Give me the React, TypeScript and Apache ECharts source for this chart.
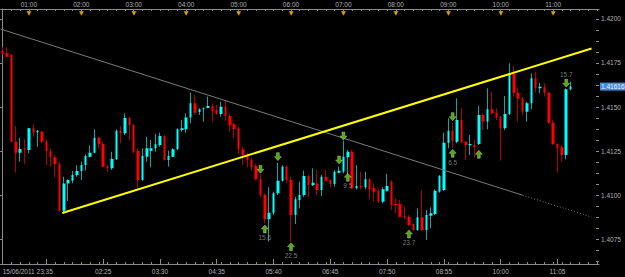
import React, { useEffect, useRef } from "react";
import * as echarts from "echarts";

// ---- data (EURUSD-like 5 minute bars) ----
const openP = [
  1.4182, 1.41805, 1.41795, 1.41303, 1.4124, 1.41264, 1.41256, 1.41379, 1.41356, 1.4136,
  1.41303, 1.4125, 1.41214, 1.41176, 1.40911, 1.41066, 1.41081, 1.41114, 1.41136, 1.4117,
  1.41218, 1.4124, 1.41326, 1.4129, 1.41161, 1.41152, 1.41203, 1.41365, 1.41351, 1.41438,
  1.41398, 1.4125, 1.41085, 1.41218, 1.41252, 1.41265, 1.41284, 1.41335, 1.41199, 1.41218,
  1.4126, 1.41369, 1.41373, 1.41441, 1.41521, 1.41472, 1.41487, 1.41494, 1.41506, 1.41483,
  1.4146, 1.41502, 1.41449, 1.41402, 1.41379, 1.4126, 1.41227, 1.41199, 1.41165, 1.41089,
  1.41, 1.40862, 1.40899, 1.4101, 1.41081, 1.41161, 1.41085, 1.40886, 1.40972, 1.41,
  1.41108, 1.41055, 1.41066, 1.41028, 1.41104, 1.41085, 1.41063, 1.41127, 1.41132, 1.41214,
  1.41246, 1.41038, 1.41051, 1.41044, 1.41089, 1.41038, 1.41024, 1.40962, 1.41024, 1.41076,
  1.40949, 1.40949, 1.40881, 1.40877, 1.40835, 1.40801, 1.40873, 1.40801, 1.40882, 1.40892,
  1.41019, 1.41028, 1.41297, 1.41365, 1.41303, 1.41426, 1.41303, 1.41282, 1.41284, 1.4129,
  1.41455, 1.41417, 1.41487, 1.41468, 1.41445, 1.41379, 1.4146, 1.41688, 1.41581, 1.41549,
  1.41473, 1.41521, 1.41663, 1.41606, 1.41612, 1.41581, 1.41411, 1.4129, 1.41271, 1.41227,
  1.41601,
];
const closeP = [
  1.41801, 1.41786, 1.41303, 1.4124, 1.41261, 1.41259, 1.41379, 1.41354, 1.41365, 1.41303,
  1.4125, 1.41214, 1.41176, 1.40911, 1.41066, 1.41085, 1.41114, 1.41136, 1.4117, 1.41222,
  1.4124, 1.41326, 1.4129, 1.41161, 1.41153, 1.41205, 1.41365, 1.41351, 1.41438, 1.41398,
  1.41246, 1.41085, 1.41222, 1.41265, 1.41265, 1.41288, 1.41335, 1.41199, 1.41222, 1.4126,
  1.41373, 1.41379, 1.41441, 1.41521, 1.41468, 1.41487, 1.41493, 1.41506, 1.41479, 1.4146,
  1.41502, 1.41449, 1.41398, 1.41375, 1.4126, 1.41227, 1.41199, 1.41157, 1.41089, 1.41,
  1.40862, 1.40899, 1.4101, 1.41081, 1.41161, 1.41085, 1.40886, 1.40976, 1.41, 1.41108,
  1.41057, 1.4107, 1.41028, 1.41104, 1.41081, 1.41063, 1.41132, 1.41138, 1.41218, 1.41246,
  1.41038, 1.41051, 1.41044, 1.41089, 1.41032, 1.41019, 1.40962, 1.41032, 1.41051, 1.40943,
  1.40943, 1.40877, 1.40873, 1.4083, 1.40801, 1.40873, 1.40801, 1.40886, 1.40896, 1.41024,
  1.41108, 1.41297, 1.41365, 1.41307, 1.41426, 1.41299, 1.41284, 1.4129, 1.41273, 1.41455,
  1.41417, 1.41487, 1.41464, 1.41441, 1.41379, 1.4146, 1.41688, 1.41581, 1.41549, 1.41473,
  1.41521, 1.41663, 1.41606, 1.41615, 1.41581, 1.41411, 1.4129, 1.41265, 1.41227, 1.41601,
  1.41616,
];
const lowP = [
  1.41798, 1.41784, 1.41301, 1.41127, 1.41189, 1.41176, 1.41237, 1.41331, 1.41274, 1.41294,
  1.4117, 1.41161, 1.41101, 1.40905, 1.40896, 1.40966, 1.41066, 1.41104, 1.41085, 1.41138,
  1.41214, 1.41237, 1.41265, 1.41157, 1.41132, 1.41142, 1.41199, 1.41294, 1.41341, 1.41313,
  1.41237, 1.41038, 1.41081, 1.41189, 1.41157, 1.41246, 1.41274, 1.41195, 1.41161, 1.41214,
  1.41256, 1.4136, 1.41354, 1.41407, 1.41455, 1.41455, 1.41417, 1.41493, 1.41417, 1.41455,
  1.41445, 1.41422, 1.4136, 1.41322, 1.41233, 1.4117, 1.41157, 1.41138, 1.41085, 1.4099,
  1.40839, 1.40735, 1.40886, 1.41, 1.41076, 1.41066, 1.40735, 1.40835, 1.40924, 1.4099,
  1.4099, 1.41051, 1.41, 1.40994, 1.41076, 1.41044, 1.41047, 1.41123, 1.41123, 1.41114,
  1.41032, 1.41032, 1.41032, 1.41032, 1.40976, 1.40962, 1.40956, 1.40953, 1.41019, 1.40915,
  1.40896, 1.40873, 1.40862, 1.40824, 1.40797, 1.40797, 1.40797, 1.40744, 1.40811, 1.40886,
  1.41013, 1.41023, 1.41265, 1.41267, 1.41294, 1.41294, 1.41199, 1.41227, 1.41214, 1.41284,
  1.41369, 1.41373, 1.41455, 1.41426, 1.41195, 1.41369, 1.41455, 1.41559, 1.41417, 1.41455,
  1.41417, 1.41487, 1.41581, 1.41578, 1.41559, 1.41403, 1.41284, 1.41127, 1.41189, 1.41203,
  1.41593,
];
const highP = [
  1.41839, 1.41839, 1.41801, 1.41392, 1.41324, 1.41318, 1.41382, 1.41403, 1.41369, 1.41365,
  1.41316, 1.41265, 1.41227, 1.41189, 1.41104, 1.41089, 1.41136, 1.4117, 1.41189, 1.41231,
  1.41282, 1.41373, 1.41331, 1.41303, 1.4117, 1.41246, 1.41373, 1.41392, 1.41464, 1.41445,
  1.41403, 1.41265, 1.41265, 1.41331, 1.41313, 1.41347, 1.41354, 1.41341, 1.41252, 1.41265,
  1.41379, 1.41426, 1.41464, 1.41581, 1.41568, 1.41493, 1.41498, 1.41559, 1.41521, 1.41511,
  1.4153, 1.41536, 1.4146, 1.41411, 1.41388, 1.41274, 1.4124, 1.41214, 1.41176, 1.41119,
  1.4101, 1.41044, 1.41019, 1.41184, 1.4117, 1.4117, 1.41104, 1.4099, 1.41076, 1.41138,
  1.41114, 1.41152, 1.41142, 1.41114, 1.41142, 1.41089, 1.41142, 1.41161, 1.41309, 1.41256,
  1.41256, 1.4117, 1.41132, 1.41132, 1.41095, 1.41066, 1.41032, 1.41044, 1.41119, 1.41085,
  1.40981, 1.40972, 1.40934, 1.40886, 1.40839, 1.40924, 1.41028, 1.40915, 1.4093, 1.41032,
  1.41114, 1.41354, 1.41436, 1.41411, 1.41549, 1.41493, 1.41307, 1.41341, 1.41313, 1.41506,
  1.41464, 1.41606, 1.41587, 1.41493, 1.41449, 1.41563, 1.41748, 1.41733, 1.41606, 1.41559,
  1.4153, 1.41691, 1.41701, 1.41638, 1.41635, 1.41587, 1.41426, 1.41294, 1.41284, 1.41606,
  1.41644,
];

const SLOTS = 137; // bar slots visible on the chart (last few empty)
const firstBarMinutes = 30; // 00:30
const categories: string[] = [];
for (let i = 0; i < SLOTS; i++) {
  const m = (firstBarMinutes + 5 * i) % 1440;
  categories.push(String(Math.floor(m / 60)).padStart(2, "0") + ":" + String(m % 60).padStart(2, "0"));
}

const bottomLabelIdx = [0, 23, 36, 49, 62, 75, 88, 101, 114, 127];
const bottomLabels = ["15/06/2011 23:35", "02:25", "03:30", "04:35", "05:40", "06:45", "07:50", "08:55", "10:00", "11:05"];
const bottomMajorTickIdx = [10, 23, 36, 49, 62, 75, 88, 101, 114, 127];

const topLabelIdx = [6, 18, 30, 42, 54, 66, 78, 90, 102, 114, 126];
const topLabels = ["01:00", "02:00", "03:00", "04:00", "05:00", "06:00", "07:00", "08:00", "09:00", "10:00", "11:00"];

const priceTicks = [1.4075, 1.41, 1.4125, 1.415, 1.4175, 1.42];
const currentPrice = 1.41616;
const yMin = 1.40608;
const yMax = 1.420568;

// trend lines: [bar position, price]
const yellowLine = [[13.64, 1.40898], [134.79, 1.41832]];
const greyLineSolid = [[-0.5, 1.41943], [119.0, 1.40999]];
const greyLineDotted = [[119.0, 1.40999], [134.79, 1.40875]];

// signal arrows
const upArrowBars = [60, 66, 79, 93, 103, 109];
const upArrowPrices = [1.40807, 1.40706, 1.41101, 1.40778, 1.41237, 1.41231];
const upArrowLabels = ["15.6", "22.5", "9.5", "23.7", "6.5", ""];
const downArrowBars = [59, 63, 77, 78, 103, 129];
const downArrowPrices = [1.41146, 1.41218, 1.41199, 1.41335, 1.41445, 1.41635];
const downArrowLabels = ["", "", "", "", "", "15.7"];

const FONT = "Liberation Sans";
const TXT = "#b0b0b0";
const AXIS = "#8a8a8a";

const UP_PATH = "path://M4,0 L8,4 L5.6,4 L5.6,8 L2.4,8 L2.4,4 L0,4 Z";
const DOWN_PATH = "path://M2.4,0 L5.6,0 L5.6,4 L8,4 L4,8 L0,4 L2.4,4 Z";

export default function App() {
  const ref = useRef<HTMLDivElement>(null);
  useEffect(() => {
    const chart = echarts.init(ref.current as HTMLDivElement, null, { renderer: "svg" });
    const ohlc = openP.map((o, i) => [o, closeP[i], lowP[i], highP[i]]);
    const minorTicks: number[] = [];
    for (let v = 1.40625; v < yMax; v += 0.000625) minorTicks.push(Number(v.toFixed(6)));

    const baseY = { type: "value", position: "right", min: yMin, max: yMax, splitLine: { show: false } };

    chart.setOption({
      animation: false,
      backgroundColor: "#000000",
      textStyle: { fontFamily: FONT },
      grid: { left: 0.5, right: 26, top: 9, bottom: 13, containLabel: false, outerBoundsMode: "none" },
      xAxis: [
        {
          type: "category",
          data: categories,
          position: "bottom",
          boundaryGap: true,
          axisLine: { show: true, lineStyle: { color: AXIS, width: 1 } },
          axisTick: {
            show: true,
            inside: true,
            length: 5,
            alignWithLabel: true,
            interval: (i: number) => bottomMajorTickIdx.includes(i),
            lineStyle: { color: AXIS },
          },
          axisLabel: {
            show: true,
            interval: (i: number) => bottomLabelIdx.includes(i),
            formatter: (_v: string, i: number) => {
              const k = bottomLabelIdx.indexOf(i);
              return k >= 0 ? bottomLabels[k] : "";
            },
            alignMinLabel: "left",
            color: TXT,
            fontSize: 6.5,
            fontFamily: FONT,
            margin: 4,
          },
          splitLine: { show: false },
        },
        {
          type: "category",
          data: categories,
          position: "bottom",
          boundaryGap: true,
          axisLine: { show: false },
          axisTick: {
            show: true,
            inside: true,
            length: 2,
            alignWithLabel: true,
            interval: (i: number) => i % 2 === 0,
            lineStyle: { color: AXIS },
          },
          axisLabel: { show: false },
          splitLine: { show: false },
        },
        {
          type: "category",
          data: categories,
          position: "top",
          boundaryGap: true,
          axisLine: { show: true, lineStyle: { color: AXIS, width: 1 } },
          axisTick: {
            show: true,
            inside: true,
            length: 2,
            alignWithLabel: true,
            interval: (i: number) => i % 2 === 0,
            lineStyle: { color: AXIS },
          },
          axisLabel: {
            show: true,
            interval: (i: number) => topLabelIdx.includes(i),
            formatter: (_v: string, i: number) => {
              const k = topLabelIdx.indexOf(i);
              return k >= 0 ? topLabels[k] : "";
            },
            color: TXT,
            fontSize: 6.5,
            fontFamily: FONT,
            margin: 1,
          },
          splitLine: { show: false },
        },
        {
          type: "category",
          data: categories,
          position: "top",
          boundaryGap: true,
          axisLine: { show: false },
          axisTick: { show: false },
          axisLabel: {
            show: true,
            inside: true,
            interval: (i: number) => topLabelIdx.includes(i),
            formatter: () => "▼",
            color: "#d9a400",
            fontSize: 6,
            fontFamily: "DejaVu Sans",
            margin: 0,
          },
          splitLine: { show: false },
        },
        { type: "value", min: -0.5, max: SLOTS - 0.5, show: false },
      ],
      yAxis: [
        {
          ...baseY,
          axisLine: { show: true, lineStyle: { color: AXIS, width: 1 } },
          axisTick: { show: true, inside: true, length: 4, customValues: priceTicks, lineStyle: { color: AXIS } },
          axisLabel: {
            show: true,
            customValues: priceTicks,
            formatter: (v: number) => v.toFixed(4),
            color: TXT,
            fontSize: 6.5,
            fontFamily: FONT,
            margin: 2,
          },
        },
        {
          ...baseY,
          axisLine: { show: false },
          axisTick: { show: true, inside: true, length: 3, customValues: minorTicks, lineStyle: { color: AXIS } },
          axisLabel: { show: false },
        },
        {
          ...baseY,
          axisLine: { show: false },
          axisTick: { show: false },
          axisLabel: {
            show: true,
            customValues: [currentPrice],
            formatter: (v: number) => v.toFixed(5),
            color: "#eaf4ff",
            backgroundColor: "#3d8fe0",
            padding: [1, 1, 0, 1],
            fontSize: 6.5,
            fontFamily: FONT,
            margin: 1,
          },
        },
      ],
      series: [
        {
          name: "wicks",
          type: "candlestick",
          xAxisIndex: 0,
          yAxisIndex: 0,
          data: ohlc,
          barWidth: 1,
          itemStyle: {
            color: "#11a5a5",
            color0: "#b00000",
            borderColor: "#11a5a5",
            borderColor0: "#b00000",
            borderWidth: 1,
          },
          z: 2,
        },
        {
          name: "bodies",
          type: "candlestick",
          xAxisIndex: 0,
          yAxisIndex: 0,
          data: ohlc,
          barWidth: 3,
          itemStyle: {
            color: "#00ffff",
            color0: "#ff0000",
            borderColor: "#00ffff",
            borderColor0: "#ff0000",
            borderWidth: 0,
          },
          z: 3,
        },
        {
          type: "line",
          xAxisIndex: 4,
          yAxisIndex: 0,
          data: greyLineSolid,
          symbol: "none",
          lineStyle: { color: "#7a7a7a", width: 1 },
          z: 4,
        },
        {
          type: "line",
          xAxisIndex: 4,
          yAxisIndex: 0,
          data: greyLineDotted,
          symbol: "none",
          lineStyle: { color: "#7a7a7a", width: 1, type: [1, 2] },
          z: 4,
        },
        {
          type: "line",
          xAxisIndex: 4,
          yAxisIndex: 0,
          data: yellowLine,
          symbol: "none",
          lineStyle: { color: "#ffff00", width: 2 },
          z: 5,
        },
        {
          type: "scatter",
          xAxisIndex: 4,
          yAxisIndex: 0,
          data: upArrowBars.map((b, i) => ({ value: [b, upArrowPrices[i]], label: { formatter: upArrowLabels[i] } })),
          symbol: UP_PATH,
          symbolSize: [7, 8],
          itemStyle: { color: "#6ecb2a", borderColor: "#b8f070", borderWidth: 0.5 },
          label: { show: true, position: "bottom", distance: 1, color: "#9a9a9a", fontSize: 6.5, fontFamily: FONT },
          z: 6,
        },
        {
          type: "scatter",
          xAxisIndex: 4,
          yAxisIndex: 0,
          data: downArrowBars.map((b, i) => ({ value: [b, downArrowPrices[i]], label: { formatter: downArrowLabels[i] } })),
          symbol: DOWN_PATH,
          symbolSize: [7, 8],
          itemStyle: { color: "#6ecb2a", borderColor: "#b8f070", borderWidth: 0.5 },
          label: { show: true, position: "top", distance: 1, color: "#9a9a9a", fontSize: 6.5, fontFamily: FONT },
          z: 6,
        },
      ],
    });
    return () => chart.dispose();
  }, []);
  return (
    <div
      ref={ref}
      style={{ position: "fixed", left: 0, top: 0, width: 625, height: 277, background: "#000" }}
    />
  );
}
